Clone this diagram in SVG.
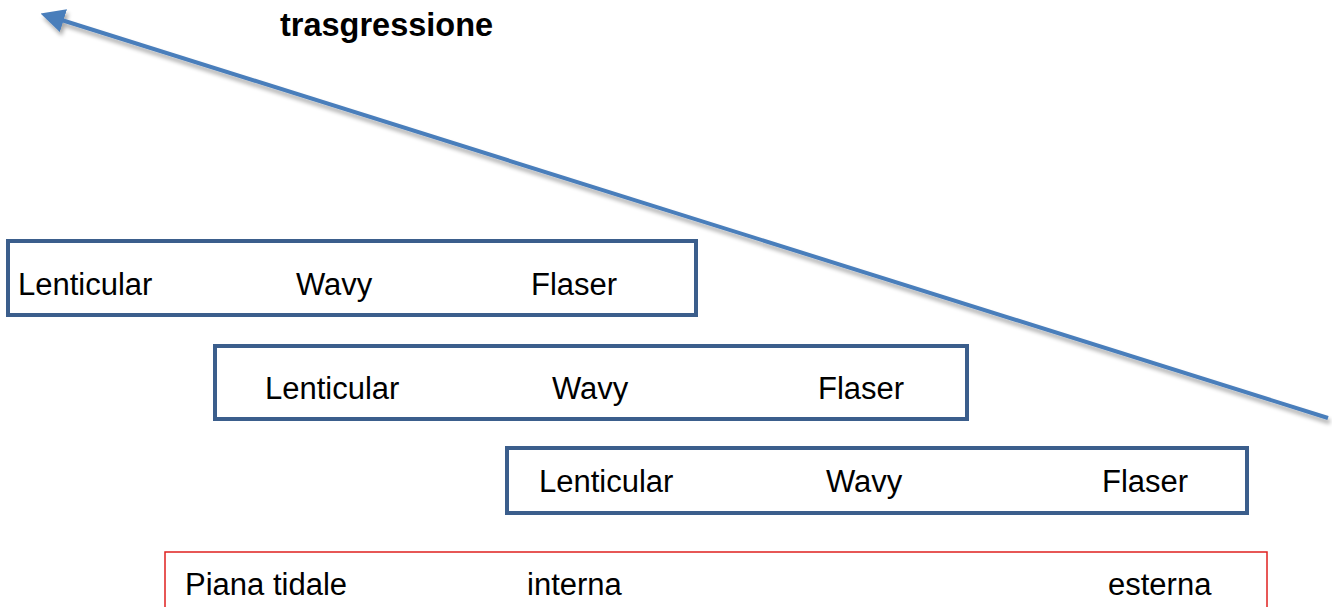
<svg xmlns="http://www.w3.org/2000/svg" width="1332" height="607" viewBox="0 0 1332 607">
<style>
.box{fill:#fff;stroke:#3b5e8c;stroke-width:4}
.red{fill:#fff;stroke:#e0201f;stroke-width:1.5}
.t{font-family:"Liberation Sans",Arial,sans-serif;font-size:31px;fill:#000}
.b{font-family:"Liberation Sans",Arial,sans-serif;font-size:32.5px;font-weight:bold;fill:#000}
.arr{stroke:#4a7ebb;stroke-width:4;fill:none}
</style>
<defs>
<marker id="ah" markerWidth="6" markerHeight="6" refX="3" refY="3" orient="auto" markerUnits="strokeWidth">
<path d="M0,0 L6,3 L0,6 z" fill="#4a7ebb"/>
</marker>
<filter id="sh" x="-5%" y="-20%" width="110%" height="140%">
<feGaussianBlur in="SourceAlpha" stdDeviation="2"/>
<feOffset dx="2" dy="4"/>
<feComponentTransfer><feFuncA type="linear" slope="0.35"/></feComponentTransfer>
<feMerge><feMergeNode/><feMergeNode in="SourceGraphic"/></feMerge>
</filter>
</defs>
<text class="b" x="280" y="36">trasgressione</text>
<g id="box1">
<rect class="box" x="8" y="241" width="688" height="74"/>
<text class="t" x="18" y="295">Lenticular</text>
<text class="t" x="296" y="295">Wavy</text>
<text class="t" x="531" y="295">Flaser</text>
</g>
<g id="box2">
<rect class="box" x="215" y="346" width="752" height="73"/>
<text class="t" x="265" y="399">Lenticular</text>
<text class="t" x="552" y="399">Wavy</text>
<text class="t" x="818" y="399">Flaser</text>
</g>
<g id="box3">
<rect class="box" x="507" y="448" width="740" height="65"/>
<text class="t" x="539" y="492">Lenticular</text>
<text class="t" x="826" y="492">Wavy</text>
<text class="t" x="1102" y="492">Flaser</text>
</g>
<g id="box4">
<rect class="red" x="165" y="552" width="1102" height="70"/>
<text class="t" x="185" y="595">Piana tidale</text>
<text class="t" x="527" y="595">interna</text>
<text class="t" x="1108" y="595">esterna</text>
</g>
<g id="connectors">
<line class="arr" x1="1328" y1="418" x2="52" y2="17" marker-end="url(#ah)" filter="url(#sh)"/>
</g>
</svg>
